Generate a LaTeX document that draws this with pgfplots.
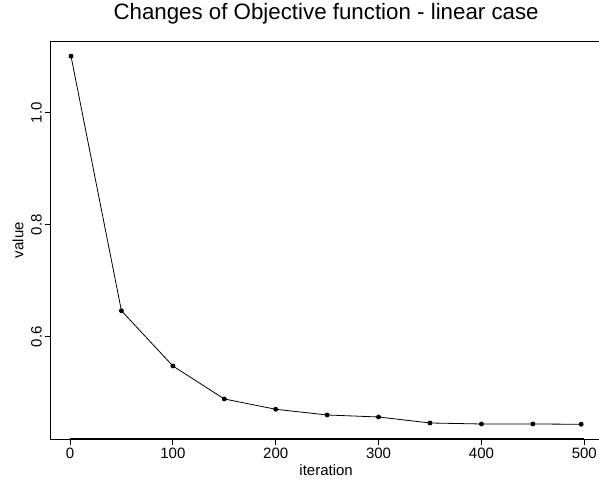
\documentclass[border=0pt]{standalone}
\usepackage{fontspec}
\setmainfont{Liberation Sans}
\usepackage{pgfplots}
\pgfplotsset{compat=1.18}
\begin{document}
\begin{tikzpicture}
\begin{axis}[
  at={(50.6pt,45pt)}, anchor=south west,
  scale only axis, width=551pt, height=397.6pt,
  xmin=-18.84, xmax=516.84, ymin=0.4173, ymax=1.1273,
  axis line style={line width=0.8pt, black},
  xtick={0,100,200,300,400,500},
  ytick={0.6,0.8,1.0},
  yticklabels={0.6,0.8,1.0},
  xtick pos=lower, ytick pos=left,
  tick align=outside, major tick length=6pt,
  tick style={line width=0.8pt, black},
  /pgf/number format/assume math mode=true,
  ticklabel style={font=\fontsize{15}{18}\selectfont},
  xticklabel style={anchor=base, yshift=-14pt},
  yticklabel style={rotate=90, anchor=base, yshift=3pt},
  xlabel={iteration}, ylabel={value},
  label style={font=\fontsize{15}{18}\selectfont},
  xlabel style={at={(axis description cs:0.5,-0.0918)}, anchor=base},
  ylabel style={at={(axis description cs:-0.0492,0.5)}, anchor=base, rotate=0},
  title={Changes of Objective function - linear case},
  title style={font=\fontsize{22.3}{26}\selectfont, at={(axis description cs:0.5,1.0412)}, anchor=base},
]
\addplot[black, line width=0.8pt, mark=*, mark size=2pt, mark options={fill=black}] coordinates {
  (1,1.101) (50,0.6464) (100,0.5477) (150,0.4888) (200,0.4704)
  (250,0.4602) (300,0.4566) (350,0.4459) (400,0.4441) (450,0.4441) (497,0.4436)
};
\draw[line width=1.2pt, black] (axis cs:0,0.4173) -- (axis cs:500,0.4173);
\draw[line width=1.2pt, black] (axis cs:-18.84,0.6) -- (axis cs:-18.84,1.0);
\end{axis}
\pgfresetboundingbox
\useasboundingbox (0,0) rectangle (599pt,484pt);
\end{tikzpicture}
\end{document}
